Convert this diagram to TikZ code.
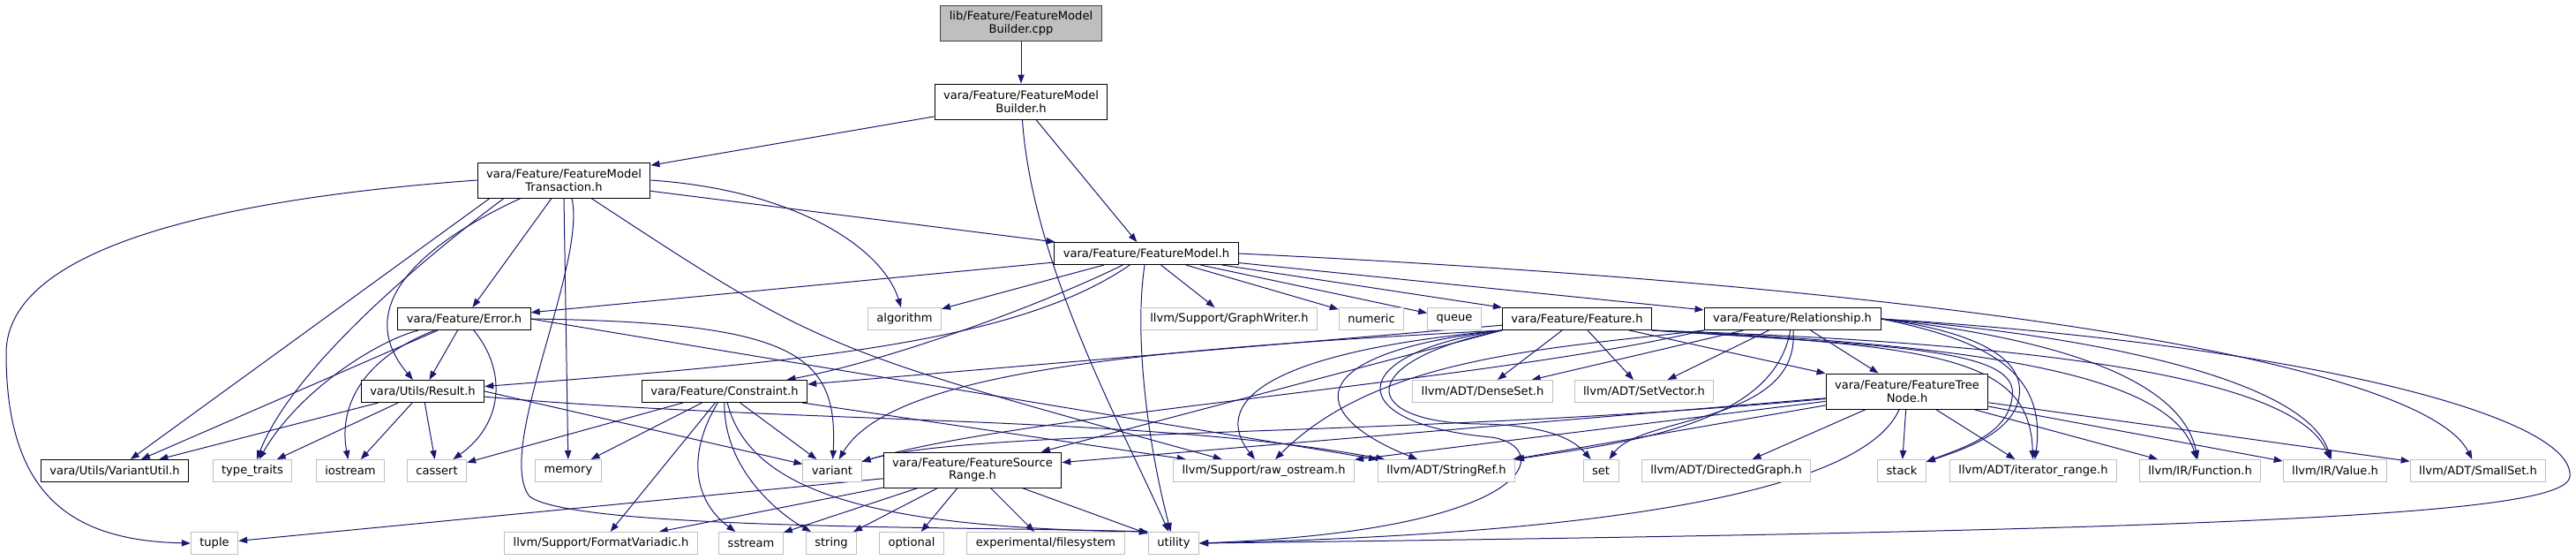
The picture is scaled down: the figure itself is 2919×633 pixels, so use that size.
\documentclass[tikz,border=0pt]{standalone}
\usepackage{fontspec}
\setmainfont{DejaVu Sans}
\usetikzlibrary{arrows.meta,backgrounds}

\definecolor{edgeblue}{HTML}{191970}
\definecolor{boxgrey}{HTML}{BFBFBF}

\tikzset{
  hdr/.style={draw=black, line width=0.75pt, fill=white, inner xsep=7.5pt, inner ysep=2pt,
    minimum height=18.75pt, align=center, font=\fontsize{9.8}{11.2}\selectfont},
  hdrtwo/.style={hdr, minimum height=30pt},
  sys/.style={hdr, draw=boxgrey},
  root/.style={hdrtwo, fill=boxgrey, draw=black!75},
  inc/.style={draw=edgeblue, line width=0.75pt, -{Triangle[length=7.5pt,width=5.5pt]}}
}

\begin{document}
\begin{tikzpicture}[x=0.75pt,y=0.75pt,yscale=-1,xscale=1]
\useasboundingbox (0,0) rectangle (2919,633);

%Nodes: own headers
\node[root]   (cpp)   at (1157,26)  {lib/Feature/FeatureModel\\Builder.cpp};
\node[hdrtwo] (bldh)  at (1157,115) {vara/Feature/FeatureModel\\Builder.h};
\node[hdrtwo] (trans) at (639,204)  {vara/Feature/FeatureModel\\Transaction.h};
\node[hdr]    (fm)    at (1299,287) {vara/Feature/FeatureModel.h};
\node[hdr]    (err)   at (526,361)  {vara/Feature/Error.h};
\node[hdr]    (feat)  at (1787,361) {vara/Feature/Feature.h};
\node[hdr]    (rel)   at (2031,361) {vara/Feature/Relationship.h};
\node[hdr]    (res)   at (479,443)  {vara/Utils/Result.h};
\node[hdr]    (cons)  at (821,443)  {vara/Feature/Constraint.h};
\node[hdrtwo] (ftn)   at (2161,443) {vara/Feature/FeatureTree\\Node.h};
\node[hdr]    (vutil) at (130,533)  {vara/Utils/VariantUtil.h};
\node[hdrtwo] (fsr)   at (1102,532) {vara/Feature/FeatureSource\\Range.h};

%Nodes: system and llvm headers
\node[sys] (algo)     at (1025,361) {algorithm};
\node[sys] (gw)       at (1393,361) {llvm/Support/GraphWriter.h};
\node[sys] (num)      at (1554,361) {numeric};
\node[sys] (queue)    at (1648,361) {queue};
\node[sys] (dense)    at (1680,443) {llvm/ADT/DenseSet.h};
\node[sys] (setvec)   at (1863,443) {llvm/ADT/SetVector.h};
\node[sys] (tt)       at (286,533)  {type\_traits};
\node[sys] (ios)      at (397,533)  {iostream};
\node[sys] (cassert)  at (495,533)  {cassert};
\node[sys] (memory)   at (644,533)  {memory};
\node[sys] (variant)  at (943,533)  {variant};
\node[sys] (raw)      at (1432,533) {llvm/Support/raw\_ostream.h};
\node[sys] (sref)     at (1639,533) {llvm/ADT/StringRef.h};
\node[sys] (set)      at (1814,533) {set};
\node[sys] (dgraph)   at (1956,533) {llvm/ADT/DirectedGraph.h};
\node[sys] (stack)    at (2155,533) {stack};
\node[sys] (itr)      at (2304,533) {llvm/ADT/iterator\_range.h};
\node[sys] (func)     at (2493,533) {llvm/IR/Function.h};
\node[sys] (value)    at (2646,533) {llvm/IR/Value.h};
\node[sys] (smallset) at (2808,533) {llvm/ADT/SmallSet.h};
\node[sys] (tuple)    at (243,615)  {tuple};
\node[sys] (fmtv)     at (681,615)  {llvm/Support/FormatVariadic.h};
\node[sys] (sstream)  at (851,615)  {sstream};
\node[sys] (string)   at (942,615)  {string};
\node[sys] (optional) at (1033,615) {optional};
\node[sys] (fs)       at (1185,615) {experimental/filesystem};
\node[sys] (utility)  at (1330,615) {utility};

\begin{scope}[on background layer]
%Edges: builder
\draw[inc] (cpp) -- (bldh);
\draw[inc] (bldh) -- (trans);
\draw[inc] (bldh) -- (fm);
\draw[inc] (bldh) .. controls (1170,300) and (1270,480) .. (utility);

%Edges: transaction
\draw[inc] (trans.west) .. controls (250,225) and (7,280) .. (7,400) .. controls (7,560) and (80,612) .. (tuple.west);
\draw[inc] ([xshift=-63pt]trans.south) -- (vutil);
\draw[inc] ([xshift=-51pt]trans.south) .. controls (470,300) and (330,420) .. (tt);
\draw[inc] ([xshift=-36.75pt]trans.south) .. controls (470,280) and (400,350) .. (res);
\draw[inc] ([xshift=-10.5pt]trans.south) -- (err);
\draw[inc] (trans.south) -- (memory);
\draw[inc] ([xshift=6.75pt]trans.south) .. controls (665,300) and (560,510) .. (600,562) .. controls (650,600) and (1100,596) .. (utility.north west);
\draw[inc] ([xshift=23.25pt]trans.south) .. controls (930,395) .. (raw);
\draw[inc] (trans.east) .. controls (900,215) and (1000,280) .. (algo);
\draw[inc] (trans) -- (fm);

%Edges: feature model
\draw[inc] (fm) -- (err);
\draw[inc] (fm) -- (algo);
\draw[inc] (fm) .. controls (1170,350) and (1000,410) .. (cons);
\draw[inc] (fm) .. controls (1150,390) and (900,410) .. (res);
\draw[inc] (fm) .. controls (1285,380) and (1300,500) .. (utility);
\draw[inc] (fm) -- (gw);
\draw[inc] (fm) -- (num);
\draw[inc] (fm) -- (queue);
\draw[inc] (fm) -- (feat);
\draw[inc] (fm) -- (rel);
\draw[inc] (fm.east) .. controls (2300,330) and (2750,420) .. (smallset);

%Edges: error and result
\draw[inc] (err) -- (res);
\draw[inc] (err) -- (vutil);
\draw[inc] (err) .. controls (430,385) and (340,440) .. (tt);
\draw[inc] (err) .. controls (400,410) and (385,470) .. (ios);
\draw[inc] (err) .. controls (575,420) and (570,480) .. (cassert);
\draw[inc] (err.east) .. controls (900,365) and (950,400) .. (variant);
\draw[inc] (err.east) -- (sref);
\draw[inc] (res) -- (vutil);
\draw[inc] (res) -- (tt);
\draw[inc] (res) -- (ios);
\draw[inc] (res) -- (cassert);
\draw[inc] (res.east) -- (variant);
\draw[inc] (res) .. controls (900,480) and (1300,470) .. (sref);

%Edges: constraint
\draw[inc] (cons) -- (cassert);
\draw[inc] (cons) -- (memory);
\draw[inc] (cons) -- (fmtv);
\draw[inc] (cons) .. controls (775,520) and (790,570) .. (sstream);
\draw[inc] (cons) .. controls (820,530) and (880,580) .. (string);
\draw[inc] (cons) .. controls (850,560) and (1000,598) .. (utility.north west);
\draw[inc] (cons) -- (variant);
\draw[inc] (cons) -- (raw);

%Edges: source range
\draw[inc] (fsr) -- (tuple);
\draw[inc] (fsr) -- (fmtv);
\draw[inc] (fsr) -- (sstream);
\draw[inc] (fsr) -- (string);
\draw[inc] (fsr) -- (optional);
\draw[inc] (fsr) -- (fs);
\draw[inc] (fsr) -- (utility);

%Edges: feature
\draw[inc] (feat) -- (cons);
\draw[inc] (feat.south west) .. controls (1300,395) and (1010,420) .. (variant);
\draw[inc] (feat.south west) -- (fsr);
\draw[inc] (feat.south west) .. controls (1420,400) and (1375,460) .. (raw);
\draw[inc] (feat.south west) .. controls (1470,400) and (1480,470) .. (sref);
\draw[inc] (feat.south west) .. controls (1530,410) and (1540,480) .. (1680,480) .. controls (1760,482) and (1785,500) .. (set);
\draw[inc] (feat.south west) .. controls (1520,400) and (1520,480) .. (1690,495) .. controls (1760,505) and (1750,600) .. (utility.east);
\draw[inc] (feat) -- (dense);
\draw[inc] (feat) -- (setvec);
\draw[inc] (feat) -- (ftn);
\draw[inc] (feat.south east) .. controls (2150,392) and (2290,395) .. (2280,450) .. controls (2275,490) and (2230,505) .. (stack);
\draw[inc] (feat.south east) .. controls (2200,392) and (2300,405) .. (itr);
\draw[inc] (feat.south east) .. controls (2250,390) and (2460,425) .. (func);
\draw[inc] (feat.south east) .. controls (2300,388) and (2600,425) .. (value);

%Edges: relationship
\draw[inc] (rel) -- (dense);
\draw[inc] (rel) -- (setvec);
\draw[inc] (rel) -- (ftn);
\draw[inc] (rel.south west) .. controls (1750,395) and (1560,405) .. (raw);
\draw[inc] (rel) .. controls (2010,480) and (1850,500) .. (sref.north east);
\draw[inc] (rel) .. controls (2040,480) and (1860,470) .. (set);
\draw[inc] (rel.south west) .. controls (1700,430) and (1150,470) .. (variant);
\draw[inc] (rel.east) .. controls (2270,380) and (2300,420) .. (2285,460) .. controls (2270,495) and (2220,510) .. (stack);
\draw[inc] (rel.east) .. controls (2250,385) and (2320,420) .. (itr);
\draw[inc] (rel.east) .. controls (2300,380) and (2470,420) .. (func);
\draw[inc] (rel.east) .. controls (2350,378) and (2610,425) .. (value);
\draw[inc] (rel.east) .. controls (2600,390) and (2919,470) .. (2912,540) .. controls (2905,580) and (2600,600) .. (utility.east);

%Edges: tree node
\draw[inc] (ftn) .. controls (1600,495) and (1100,485) .. (variant);
\draw[inc] (ftn) -- (fsr);
\draw[inc] (ftn) -- (raw);
\draw[inc] (ftn) -- (sref);
\draw[inc] (ftn) -- (dgraph);
\draw[inc] (ftn) -- (stack);
\draw[inc] (ftn) -- (itr);
\draw[inc] (ftn) -- (func);
\draw[inc] (ftn) -- (value);
\draw[inc] (ftn) -- (smallset);
\draw[inc] (ftn) .. controls (2110,560) and (1800,605) .. (utility.east);
\end{scope}

\end{tikzpicture}
\end{document}
